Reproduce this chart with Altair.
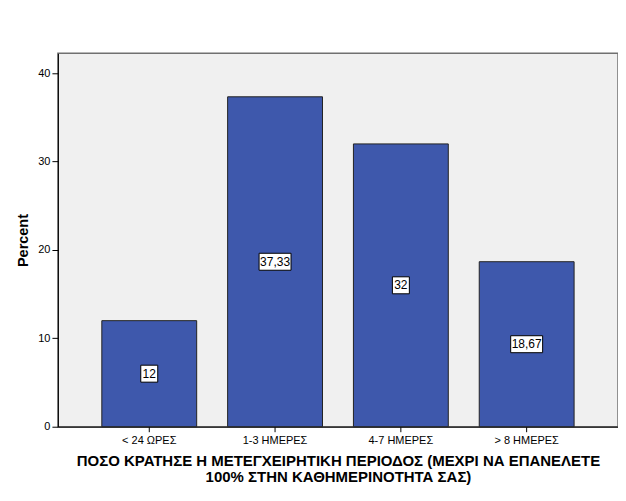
import altair as alt
import pandas as pd

categories = ["< 24 ΩΡΕΣ", "1-3 ΗΜΕΡΕΣ", "4-7 ΗΜΕΡΕΣ", "> 8 ΗΜΕΡΕΣ"]
percents = [12, 37.33, 32, 18.67]
labels = ["12", "37,33", "32", "18,67"]

df = pd.DataFrame({"cat": categories, "pct": percents, "lab": labels})
df["mid"] = df["pct"] / 2
df["boxkind"] = ["short" if len(s) <= 2 else "long" for s in df["lab"]]

FONT = "Liberation Sans"

x_enc = alt.X(
    "cat:N",
    sort=categories,
    scale=alt.Scale(paddingInner=0.246, paddingOuter=0.349),
    axis=alt.Axis(
        title=["ΠΟΣΟ ΚΡΑΤΗΣΕ Η ΜΕΤΕΓΧΕΙΡΗΤΙΚΗ ΠΕΡΙΟΔΟΣ (ΜΕΧΡΙ ΝΑ ΕΠΑΝΕΛΕΤΕ",
               "100% ΣΤΗΝ ΚΑΘΗΜΕΡΙΝΟΤΗΤΑ ΣΑΣ)"],
        labelAngle=0,
        labelFontSize=11,
        labelFont=FONT,
        labelColor="black",
        labelPadding=3,
        tickSize=5,
        tickColor="black",
        domainColor="black",
        titleFont=FONT,
        titleFontSize=15,
        titleFontWeight="bold",
        titleColor="black",
        titlePadding=8,
        titleLineHeight=16,
    ),
)

y_scale = alt.Scale(domain=[0, 42.25], nice=False)

bars = alt.Chart(df).mark_bar(
    color="#3e58ac", stroke="#222222", strokeWidth=1
).encode(
    x=x_enc,
    y=alt.Y(
        "pct:Q",
        scale=y_scale,
        axis=alt.Axis(
            title="Percent",
            values=[0, 10, 20, 30, 40],
            grid=False,
            labelFontSize=11,
            labelFont=FONT,
            labelColor="black",
            labelPadding=2,
            tickSize=6,
            tickColor="black",
            domainColor="black",
            titleFont=FONT,
            titleFontSize=14.5,
            titleFontWeight="bold",
            titleColor="black",
            titlePadding=7,
        ),
    ),
)

boxes = alt.Chart(df).mark_point(
    filled=True, fill="white", stroke="black", strokeWidth=1, size=4, opacity=1
).encode(
    x=alt.X("cat:N", sort=categories),
    y=alt.Y("mid:Q", scale=y_scale),
    shape=alt.Shape(
        "boxkind:N",
        scale=alt.Scale(
            domain=["short", "long"],
            range=["M-8.5,-8.5H8.5V8.5H-8.5Z", "M-16,-8.5H16V8.5H-16Z"],
        ),
        legend=None,
    ),
)

texts = alt.Chart(df).mark_text(
    font=FONT, fontSize=12, color="black", baseline="middle", align="center"
).encode(
    x=alt.X("cat:N", sort=categories),
    y=alt.Y("mid:Q", scale=y_scale),
    text="lab:N",
)

chart = (
    alt.layer(bars, boxes, texts)
    .properties(
        width=561,
        height=374,
        autosize=alt.AutoSizeParams(type="none"),
        padding={"left": 50, "top": 45, "right": 0, "bottom": 66},
        background="white",
    )
    .configure_view(fill="#f0f0f0", stroke="#707070", strokeWidth=1.5)
)

chart.save("out.html", embed_options={"renderer": "svg", "actions": False})
